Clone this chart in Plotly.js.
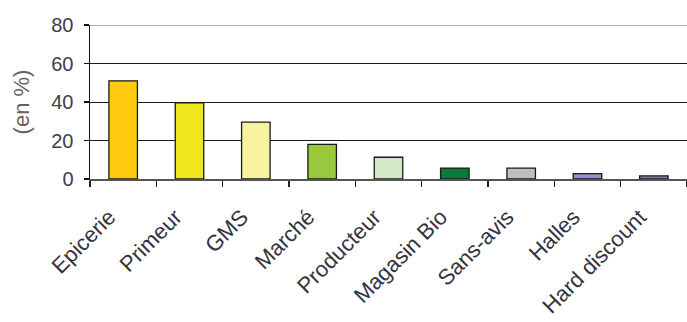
<!DOCTYPE html>
<html>
<head>
<meta charset="utf-8">
<script src="https://cdn.plot.ly/plotly-3.0.1.min.js"></script>
<style>html,body{margin:0;padding:0;background:#fff;}#chart{width:687px;height:322px;}</style>
</head>
<body>
<div id="chart"></div>
<script>
const categories = ["Epicerie", "Primeur", "GMS", "Marché", "Producteur", "Magasin Bio", "Sans-avis", "Halles", "Hard discount"];
const values = [51, 39.5, 29.5, 18, 11.3, 5.7, 5.7, 2.8, 1.6];
const barColors = ["#FFC90E", "#F0E61E", "#F7F3A0", "#99C83C", "#D3E8C6", "#0B7A3A", "#BEBEBE", "#8F90C8", "#7A7AB4"];
const yTicks = [0, 20, 40, 60, 80];

const trace = {
  type: "bar",
  x: categories,
  y: values,
  width: 0.43,
  marker: { color: barColors, line: { color: "#1a1a1a", width: 1.3 } },
  hoverinfo: "x+y"
};

const layout = {
  width: 687, height: 322,
  margin: { l: 90, r: 0, t: 25, b: 143 },
  paper_bgcolor: "#fff", plot_bgcolor: "#fff",
  showlegend: false,
  font: { family: "Liberation Sans, Arial, sans-serif" },
  xaxis: {
    type: "category",
    tickangle: -45,
    tickson: "boundaries",
    ticks: "outside", ticklen: 6, tickcolor: "#222", tickwidth: 1.3,
    showgrid: false,
    showline: true, linecolor: "#555", linewidth: 1.5,
    tickfont: { size: 22, color: "#333340" },
    ticklabelshift: -14,
    ticklabelstandoff: 15
  },
  yaxis: {
    range: [0, 80],
    tickvals: yTicks,
    ticktext: yTicks.map(String),
    ticks: "outside", ticklen: 5, tickcolor: "#111", tickwidth: 1.3,
    showgrid: true, gridcolor: "#1a1a1a", gridwidth: 1,
    zeroline: false,
    showline: true, linecolor: "#111", linewidth: 1.5,
    tickfont: { size: 20, color: "#3a4050" },
    ticklabelstandoff: 6,
    title: { text: "(en %)", font: { size: 22, color: "#6a6060" }, standoff: 15 }
  },
  shapes: [{
    type: "line", xref: "paper", yref: "y", x0: 0, x1: 1, y0: yTicks[yTicks.length - 1], y1: yTicks[yTicks.length - 1],
    line: { color: "#9a9a9a", width: 1.5 }
  }]
};

Plotly.newPlot("chart", [trace], layout, { displayModeBar: false, staticPlot: true });
</script>
</body>
</html>
